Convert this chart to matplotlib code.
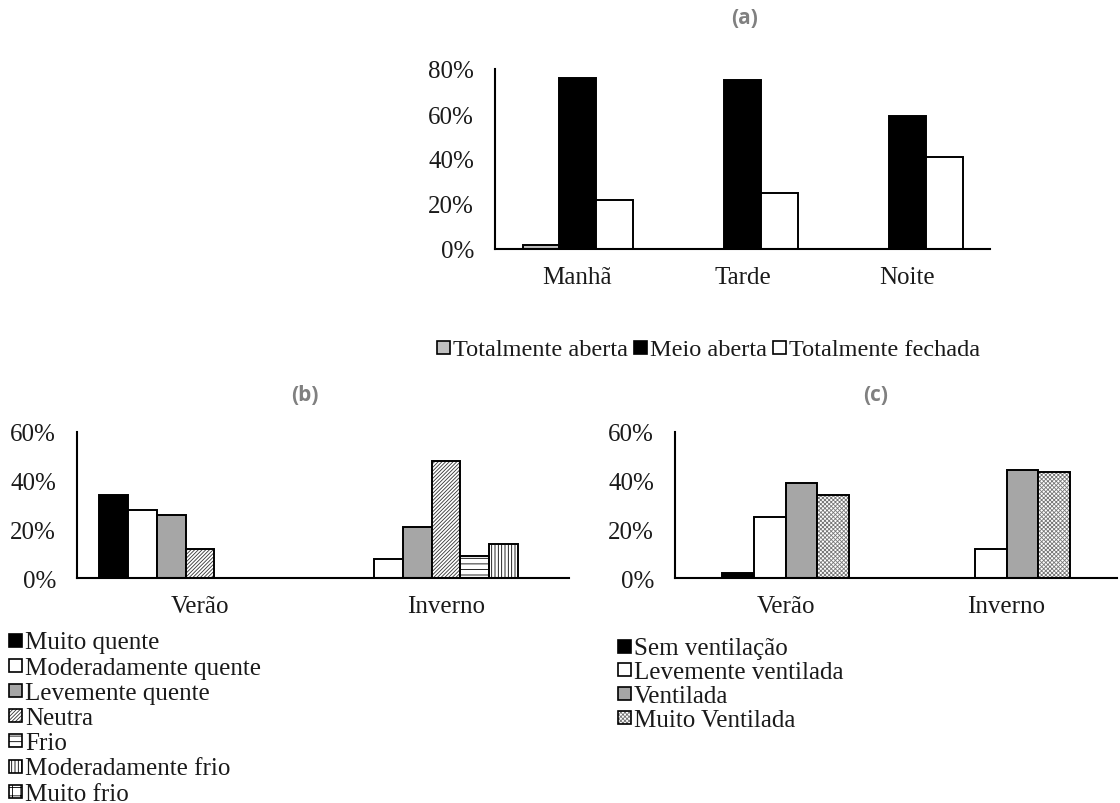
import matplotlib
matplotlib.use('Agg')
import matplotlib.pyplot as plt
from matplotlib.patches import Rectangle
import numpy as np

# ---------------- data ----------------
periods = ['Manhã', 'Tarde', 'Noite']
window_labels = ['Totalmente aberta', 'Meio aberta', 'Totalmente fechada']
totalmente_aberta = [2, 0, 0]
meio_aberta = [76, 75, 59]
totalmente_fechada = [22, 25, 41]

seasons = ['Verão', 'Inverno']
thermal_labels = ['Muito quente', 'Moderadamente quente', 'Levemente quente',
                  'Neutra', 'Frio', 'Moderadamente frio', 'Muito frio']
muito_quente = [34, 0]
moderadamente_quente = [28, 8]
levemente_quente = [26, 21]
neutra = [12, 48]
frio = [0, 9]
moderadamente_frio = [0, 14]
muito_frio = [0, 0]

vent_labels = ['Sem ventilação', 'Levemente ventilada', 'Ventilada', 'Muito Ventilada']
sem_ventilacao = [2, 0]
levemente_ventilada = [25, 12]
ventilada = [39, 44.5]
muito_ventilada = [34, 43.5]

a_ticks = [0, 20, 40, 60, 80]
bc_ticks = [0, 20, 40, 60]

# ---------------- style ----------------
W, H, DPI = 1120, 804, 100
plt.rcParams['font.family'] = ['Liberation Serif', 'DejaVu Serif']
plt.rcParams['hatch.linewidth'] = 0.6
TXT = '#1a1a1a'
FS = 18
TITLE_KW = dict(family=['Open Sans', 'DejaVu Sans'], fontweight='bold',
                color='#808080', fontsize=15, ha='center', va='center')

fig = plt.figure(figsize=(W / DPI, H / DPI), dpi=DPI)
fig.patch.set_facecolor('white')


def px_axes(left, right, y0, ytop):
    return fig.add_axes([left / W, 1 - y0 / H, (right - left) / W, (y0 - ytop) / H])


def style_axes(ax, ymax, ticks, cats):
    ax.set_ylim(0, ymax)
    ax.set_xlim(-0.5, len(cats) - 0.5)
    ax.set_yticks(ticks)
    ax.set_yticklabels([f'{t}%' for t in ticks])
    ax.set_xticks(range(len(cats)))
    ax.set_xticklabels(cats)
    for s in ['top', 'right']:
        ax.spines[s].set_visible(False)
    for s in ['left', 'bottom']:
        ax.spines[s].set_linewidth(1.5)
        ax.spines[s].set_color('black')
    ax.tick_params(axis='y', length=0, pad=15, labelsize=FS, labelcolor=TXT)
    ax.tick_params(axis='x', length=0, pad=12, labelsize=FS, labelcolor=TXT)
    ax.set_facecolor('none')


def draw_bars(ax, series, styles, gapw):
    n = len(series)
    w = 1.0 / (n + gapw)
    x = np.arange(len(series[0]))
    for i, (vals, st) in enumerate(zip(series, styles)):
        pos = x + (i - (n - 1) / 2) * w
        fc, hatch, hc = st
        if hatch:
            ax.bar(pos, vals, w, facecolor=fc, edgecolor=hc, hatch=hatch, linewidth=0, zorder=2)
            ax.bar(pos, vals, w, facecolor='none', edgecolor='black', linewidth=1.4, zorder=3)
        else:
            ax.bar(pos, vals, w, facecolor=fc, edgecolor='black', linewidth=1.4, zorder=2)


def legend_entry(x, y, label, st, size=13, fs=FS):
    fc, hatch, hc = st
    r = Rectangle((x / W, 1 - (y + size / 2) / H), size / W, size / H, transform=fig.transFigure,
                  facecolor=fc, edgecolor=hc if hatch else 'black', hatch=hatch,
                  linewidth=0 if hatch else 1.2)
    fig.add_artist(r)
    if hatch:
        fig.add_artist(Rectangle((x / W, 1 - (y + size / 2) / H), size / W, size / H,
                                 transform=fig.transFigure, facecolor='none',
                                 edgecolor='black', linewidth=1.2))
    return fig.text((x + size + 3) / W, 1 - y / H, label, fontsize=fs, color=TXT,
                    ha='left', va='center_baseline')


# ---------------- (a) ----------------
a_styles = [('#c0c0c0', None, None), ('black', None, None), ('white', None, None)]
ax_a = px_axes(495, 990, 250, 70)
draw_bars(ax_a, [totalmente_aberta, meio_aberta, totalmente_fechada], a_styles, 1.5)
style_axes(ax_a, 80, a_ticks, periods)
fig.text(745 / W, 1 - 18 / H, '(a)', **TITLE_KW)
xa = 437
for lab, st in zip(window_labels, a_styles):
    t = legend_entry(xa, 348, lab, st, fs=17.5)
    fig.canvas.draw()
    bb = t.get_window_extent()
    xa = bb.x1 + 6

# ---------------- (b) ----------------
b_styles = [('black', None, None), ('white', None, None), ('#a6a6a6', None, None),
            ('white', '/////////', '#333333'), ('white', '---', 'black'),
            ('white', '|||||', 'black'), ('white', '++', 'black')]
ax_b = px_axes(77, 569, 579, 433)
draw_bars(ax_b, [muito_quente, moderadamente_quente, levemente_quente, neutra, frio,
                 moderadamente_frio, muito_frio], b_styles, 1.5)
style_axes(ax_b, 60, bc_ticks, seasons)
fig.text(305 / W, 1 - 396 / H, '(b)', **TITLE_KW)
for i, (lab, st) in enumerate(zip(thermal_labels, b_styles)):
    legend_entry(9, 641 + i * 25.2, lab, st)

# ---------------- (c) ----------------
c_styles = [('black', None, None), ('white', None, None), ('#a6a6a6', None, None),
            ('white', 'xxxxxxxx', '#777777')]
ax_c = px_axes(675, 1117, 579, 433)
draw_bars(ax_c, [sem_ventilacao, levemente_ventilada, ventilada, muito_ventilada], c_styles, 3.0)
style_axes(ax_c, 60, bc_ticks, seasons)
fig.text(876 / W, 1 - 396 / H, '(c)', **TITLE_KW)
for i, (lab, st) in enumerate(zip(vent_labels, c_styles)):
    legend_entry(618, 647 + i * 23.9, lab, st)

fig.savefig('out.png', dpi=DPI, facecolor='white')
